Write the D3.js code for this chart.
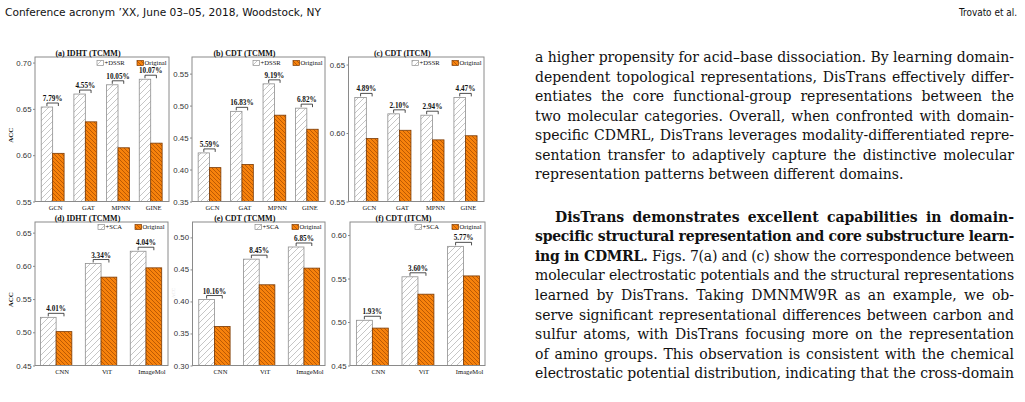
<!DOCTYPE html>
<html><head><meta charset="utf-8">
<script src="https://cdn.jsdelivr.net/npm/d3@7"></script>
<style>body{margin:0;background:#fff}svg{display:block}</style>
</head><body>
<svg id="c" width="1025" height="402"></svg>
<script>
// ---------- data ----------
const gnnModels = ["GCN", "GAT", "MPNN", "GINE"];
const imgModels = ["CNN", "ViT", "ImageMol"];

const aEnhanced = [0.652, 0.666, 0.676, 0.682];
const aOriginal = [0.602, 0.636, 0.608, 0.613];
const aGain = ["7.79%", "4.55%", "10.05%", "10.07%"];

const bEnhanced = [0.426, 0.491, 0.534, 0.496];
const bOriginal = [0.403, 0.408, 0.485, 0.463];
const bGain = ["5.59%", "16.83%", "9.19%", "6.82%"];

const cEnhanced = [0.626, 0.614, 0.613, 0.626];
const cOriginal = [0.596, 0.602, 0.595, 0.598];
const cGain = ["4.89%", "2.10%", "2.94%", "4.47%"];

const dEnhanced = [0.5225, 0.6035, 0.622];
const dOriginal = [0.501, 0.583, 0.597];
const dGain = ["4.01%", "3.34%", "4.04%"];

const eEnhanced = [0.403, 0.466, 0.485];
const eOriginal = [0.361, 0.426, 0.452];
const eGain = ["10.16%", "8.45%", "6.85%"];

const fEnhanced = [0.502, 0.552, 0.587];
const fOriginal = [0.493, 0.532, 0.553];
const fGain = ["1.93%", "3.60%", "5.77%"];

const aTicks = [0.55, 0.60, 0.65, 0.70];
const bTicks = [0.35, 0.40, 0.45, 0.50, 0.55];
const cTicks = [0.55, 0.60, 0.65];
const dTicks = [0.45, 0.50, 0.55, 0.60, 0.65];
const eTicks = [0.30, 0.35, 0.40, 0.45, 0.50];
const fTicks = [0.45, 0.50, 0.55, 0.60];

const titles = ["(a) IDHT (TCMM)", "(b) CDT (TCMM)", "(c) CDT (ITCM)",
                "(d) IDHT (TCMM)", "(e) CDT (TCMM)", "(f) CDT (ITCM)"];
const legendTop = ["+DSSR", "Original"];
const legendBottom = ["+SCA", "Original"];

const headerLeft = "Conference acronym \u2019XX, June 03\u201305, 2018, Woodstock, NY";
const headerRight = "Trovato et al.";

const para1 = [
 "a higher propensity for acid\u2013base dissociation. By learning domain-",
 "dependent topological representations, DisTrans effectively differ-",
 "entiates the core functional-group representations between the",
 "two molecular categories. Overall, when confronted with domain-",
 "specific CDMRL, DisTrans leverages modality-differentiated repre-",
 "sentation transfer to adaptively capture the distinctive molecular",
 "representation patterns between different domains."
];
const para2 = [
 [["DisTrans demonstrates excellent capabilities in domain-", true]],
 [["specific structural representation and core substructure learn-", true]],
 [["ing in CDMRL.", true], [" Figs. 7(a) and (c) show the correspondence between", false]],
 [["molecular electrostatic potentials and the structural representations", false]],
 [["learned by DisTrans. Taking DMNMW9R as an example, we ob-", false]],
 [["serve significant representational differences between carbon and", false]],
 [["sulfur atoms, with DisTrans focusing more on the representation", false]],
 [["of amino groups. This observation is consistent with the chemical", false]],
 [["electrostatic potential distribution, indicating that the cross-domain", false]]
];

// ---------- drawing ----------
const svg = d3.select("#c");
const defs = svg.append("defs");
function hatch(id, size, bg, stroke, sw, dir) {
  const p = defs.append("pattern").attr("id", id).attr("patternUnits", "userSpaceOnUse")
    .attr("width", size).attr("height", size);
  p.append("rect").attr("width", size).attr("height", size).attr("fill", bg);
  const s = size;
  const d = dir === "/" ?
    `M0,${s} L${s},0 M${-s/2},${s/2} L${s/2},${-s/2} M${s/2},${s*1.5} L${s*1.5},${s/2}` :
    `M0,0 L${s},${s} M${-s/2},${s/2} L${s/2},${s*1.5} M${s/2},${-s/2} L${s*1.5},${s/2}`;
  p.append("path").attr("d", d).attr("stroke", stroke).attr("stroke-width", sw).attr("fill", "none");
}
hatch("hW", 6, "#ffffff", "#b8b8b8", 0.8, "/");
hatch("hO", 4, "#f7820c", "#a84c00", 0.75, "\\");

const panels = [
  {t: titles[0], cats: gnnModels, en: aEnhanced, or: aOriginal, g: aGain, ticks: aTicks, yd: [0.55, 0.706], x0: 35, x1: 169, y0: 57, y1: 201.5, xd: [-0.54, 3.56], leg: legendTop, acc: true},
  {t: titles[1], cats: gnnModels, en: bEnhanced, or: bOriginal, g: bGain, ticks: bTicks, yd: [0.35, 0.576], x0: 192, x1: 325, y0: 57, y1: 201.5, xd: [-0.54, 3.56], leg: legendTop},
  {t: titles[2], cats: gnnModels, en: cEnhanced, or: cOriginal, g: cGain, ticks: cTicks, yd: [0.55, 0.6555], x0: 348.5, x1: 484, y0: 57, y1: 201.5, xd: [-0.54, 3.56], leg: legendTop},
  {t: titles[3], cats: imgModels, en: dEnhanced, or: dOriginal, g: dGain, ticks: dTicks, yd: [0.45, 0.666], x0: 35, x1: 168, y0: 222, y1: 365.5, xd: [-0.47, 2.49], leg: legendBottom, acc: true},
  {t: titles[4], cats: imgModels, en: eEnhanced, or: eOriginal, g: eGain, ticks: eTicks, yd: [0.30, 0.524], x0: 192.5, x1: 325, y0: 222, y1: 365.5, xd: [-0.49, 2.47], leg: legendBottom},
  {t: titles[5], cats: imgModels, en: fEnhanced, or: fOriginal, g: fGain, ticks: fTicks, yd: [0.45, 0.615], x0: 350, x1: 485, y0: 222, y1: 365.5, xd: [-0.49, 2.47], leg: legendBottom}
];
const bw = 0.35;
const serif = "'Liberation Serif', 'Times New Roman', serif";
const sans = "'Liberation Sans', Arial, sans-serif";
const bodySerif = "'DejaVu Serif', serif";

panels.forEach((P, pi) => {
  const x = d3.scaleLinear().domain(P.xd).range([P.x0, P.x1]);
  const y = d3.scaleLinear().domain(P.yd).range([P.y1, P.y0]);
  const g = svg.append("g");
  const base = P.yd[0];
  const wpx = x(bw) - x(0);
  g.selectAll(".en").data(P.en).join("rect")
    .attr("x", (d, i) => x(i) - wpx).attr("y", d => y(d))
    .attr("width", wpx).attr("height", d => y(base) - y(d))
    .attr("fill", "url(#hW)").attr("stroke", "#8f8f8f").attr("stroke-width", 0.8);
  g.selectAll(".or").data(P.or).join("rect")
    .attr("x", (d, i) => x(i)).attr("y", d => y(d))
    .attr("width", wpx).attr("height", d => y(base) - y(d))
    .attr("fill", "url(#hO)").attr("stroke", "#7a3a05").attr("stroke-width", 0.8);
  P.en.forEach((v, i) => {
    const yb = y(v) - 4;
    const xa = x(i - bw / 2), xb = x(i + bw / 2);
    g.append("path").attr("d", `M${xa},${yb + 3} V${yb} H${xb} V${yb + 3}`)
      .attr("fill", "none").attr("stroke", "#222").attr("stroke-width", 0.8);
    g.append("text").attr("x", x(i)).attr("y", yb - 2).attr("text-anchor", "middle")
      .style("font-family", serif).attr("font-weight", "bold").attr("font-size", 7.2)
      .attr("fill", "#111").text(P.g[i]);
  });
  g.append("rect").attr("x", P.x0).attr("y", P.y0).attr("width", P.x1 - P.x0).attr("height", P.y1 - P.y0)
    .attr("fill", "none").attr("stroke", "#8a8a8a").attr("stroke-width", 1);
  const ya = d3.axisLeft(y).tickValues(P.ticks).tickFormat(d3.format(".2f")).tickSize(2).tickPadding(1.5);
  const ag = g.append("g").attr("transform", `translate(${P.x0},0)`).call(ya);
  ag.select(".domain").remove();
  ag.selectAll("line").attr("stroke", "#8a8a8a");
  ag.selectAll("text").style("font-family", sans).attr("font-size", 7.8).attr("fill", "#333");
  const off = P.cats.length === 4 ? 3 : 6;
  g.selectAll(".xl").data(P.cats).join("text")
    .attr("x", (d, i) => x(i) + off).attr("y", P.y1 + 8.5).attr("text-anchor", "middle")
    .style("font-family", serif).attr("font-size", 6.6).attr("fill", "#111").text(d => d);
  g.append("text").attr("x", (P.x0 + P.x1) / 2 - 14).attr("y", P.y0 - 1.5).attr("text-anchor", "middle")
    .style("font-family", serif).attr("font-weight", "bold").attr("font-size", 8).attr("fill", "#111").text(P.t);
  const top = P.cats.length === 4;
  const ob = P.x1 - (top ? 32 : 33);
  const db = ob - (top ? 40 : 37);
  const ly = P.y0 + (top ? 6 : 5);
  [[db, "url(#hW)", "#8f8f8f", P.leg[0]], [ob, "url(#hO)", "#7a3a05", P.leg[1]]].forEach(L => {
    g.append("rect").attr("x", L[0]).attr("y", ly - 2.5).attr("width", 6.5).attr("height", 5)
      .attr("fill", L[1]).attr("stroke", L[2]).attr("stroke-width", 0.7);
    g.append("text").attr("x", L[0] + 7.5).attr("y", ly).attr("dy", "0.35em")
      .style("font-family", serif).attr("font-size", 6.6).attr("fill", "#111").text(L[3]);
  });
  if (P.acc) {
    const cy = (P.y0 + P.y1) / 2 + 6;
    svg.append("text").attr("transform", `translate(12.5,${cy}) rotate(-90)`).attr("text-anchor", "middle")
      .style("font-family", serif).attr("font-weight", "bold").attr("font-size", 7).attr("fill", "#111").text("ACC");
  }
});
svg.append("text").attr("transform", "translate(175,293) rotate(-90)").attr("text-anchor", "middle")
  .style("font-family", serif).attr("font-size", 5).attr("fill", "#e4e4e4").text("ACC");

// header
svg.append("text").attr("x", 5).attr("y", 16).style("font-family", "'Liberation Sans Narrow', 'DejaVu Sans Condensed', sans-serif")
  .attr("font-size", 10.5).attr("fill", "#111").attr("textLength", 316).attr("lengthAdjust", "spacingAndGlyphs").text(headerLeft);
svg.append("text").attr("x", 959).attr("y", 16).style("font-family", "'Liberation Sans Narrow', 'DejaVu Sans Condensed', sans-serif")
  .attr("font-size", 10.5).attr("fill", "#111").attr("textLength", 58).attr("lengthAdjust", "spacingAndGlyphs").text(headerRight);

// body text
const TL = 535, TR = 1014, FS = 14, LH = 19.55;
function justify(t, target) {
  const n = t.node();
  const nat = n.getComputedTextLength();
  const txt = n.textContent;
  const sp = (txt.match(/ /g) || []).length;
  if (nat > target) {
    t.style("letter-spacing", ((target - nat) / txt.length) + "px");
    const nat2 = n.getComputedTextLength();
    if (sp > 0) t.style("word-spacing", ((target - nat2) / sp) + "px");
  } else if (sp > 0) {
    t.style("word-spacing", ((target - nat) / sp) + "px");
  }
}
para1.forEach((line, i) => {
  const t = svg.append("text").attr("x", TL).attr("y", 62 + LH * i)
    .style("font-family", bodySerif).attr("font-size", FS).attr("fill", "#111").style("white-space", "pre").text(line);
  if (i < para1.length - 1) justify(t, TR - TL);
});
para2.forEach((parts, i) => {
  const x0 = i === 0 ? TL + 20 : TL;
  const t = svg.append("text").attr("x", x0).attr("y", 221.8 + LH * i)
    .style("font-family", bodySerif).attr("font-size", FS).attr("fill", "#111").style("white-space", "pre");
  parts.forEach(p => t.append("tspan").attr("font-weight", p[1] ? "bold" : "normal").text(p[0]));
  justify(t, TR - x0);
});
</script>
</body></html>
